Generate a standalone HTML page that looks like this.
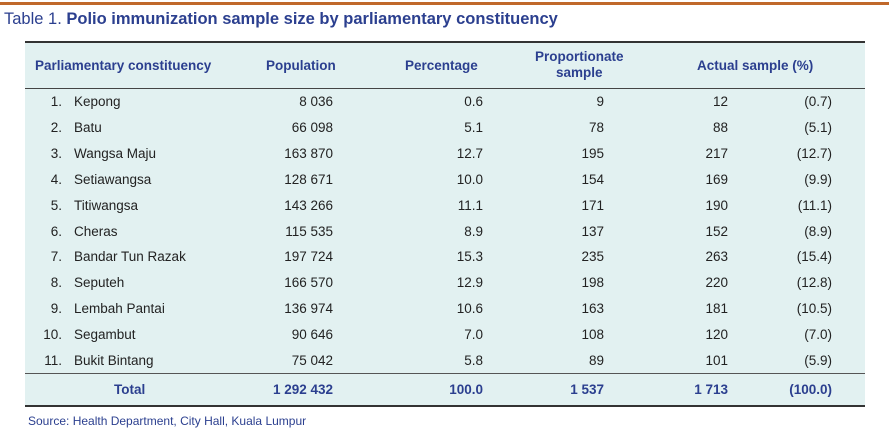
<!DOCTYPE html>
<html><head><style>
body{margin:0;width:889px;height:432px;background:#fff;position:relative;font-family:"Liberation Sans",sans-serif;overflow:hidden}
.a{position:absolute;white-space:nowrap;font-size:13.5px;color:#222}
.r{text-align:right}
.h{color:#2b3f8f;font-weight:bold;font-size:13.5px}
</style></head><body>
<div style="position:absolute;left:0;top:2px;width:889px;height:3px;background:#c0682a"></div>
<div class="a" style="left:4px;top:10px;font-size:16.5px;color:#2b3f8f">Table 1. <b>Polio immunization sample size by parliamentary constituency</b></div>
<div style="position:absolute;left:25px;top:41px;width:840px;height:365px;background:#e2f1f1"></div>
<div style="position:absolute;left:25px;top:41px;width:840px;height:2px;background:#333"></div>
<div style="position:absolute;left:25px;top:88px;width:840px;height:1px;background:#444"></div>
<div style="position:absolute;left:25px;top:373px;width:840px;height:1px;background:#555"></div>
<div style="position:absolute;left:25px;top:405px;width:840px;height:2px;background:#333"></div>
<div class="a h" style="left:35px;top:58px">Parliamentary constituency</div>
<div class="a h" style="left:266px;top:58px">Population</div>
<div class="a h" style="left:405px;top:58px">Percentage</div>
<div class="a h" style="left:535px;top:49px;text-align:center;line-height:16px">Proportionate<br>sample</div>
<div class="a h" style="left:697px;top:58px">Actual sample (%)</div>
<div id="rows"></div>
<div class="a h" style="left:114px;top:382px">Total</div>
<div class="a h r" style="right:556px;top:382px">1 292 432</div>
<div class="a h r" style="right:406px;top:382px">100.0</div>
<div class="a h r" style="right:285px;top:382px">1 537</div>
<div class="a h r" style="right:161px;top:382px">1 713</div>
<div class="a h r" style="right:57px;top:382px">(100.0)</div>
<div class="a" style="left:28px;top:414px;font-size:12px;color:#2b3f8f">Source: Health Department, City Hall, Kuala Lumpur</div>
<script>
var d=[["Kepong","8 036","0.6","9","12","(0.7)"],["Batu","66 098","5.1","78","88","(5.1)"],["Wangsa Maju","163 870","12.7","195","217","(12.7)"],["Setiawangsa","128 671","10.0","154","169","(9.9)"],["Titiwangsa","143 266","11.1","171","190","(11.1)"],["Cheras","115 535","8.9","137","152","(8.9)"],["Bandar Tun Razak","197 724","15.3","235","263","(15.4)"],["Seputeh","166 570","12.9","198","220","(12.8)"],["Lembah Pantai","136 974","10.6","163","181","(10.5)"],["Segambut","90 646","7.0","108","120","(7.0)"],["Bukit Bintang","75 042","5.8","89","101","(5.9)"]];
var h="";d.forEach(function(r,i){var t=94+i*25.9;
h+='<div class="a r" style="right:827px;top:'+t+'px">'+(i+1)+'.</div>';
h+='<div class="a" style="left:74px;top:'+t+'px">'+r[0]+'</div>';
var rs=[556,406,285,161,57];for(var k=0;k<5;k++)h+='<div class="a r" style="right:'+rs[k]+'px;top:'+t+'px">'+r[k+1]+'</div>';});
document.getElementById("rows").innerHTML=h;
</script>
</body></html>
